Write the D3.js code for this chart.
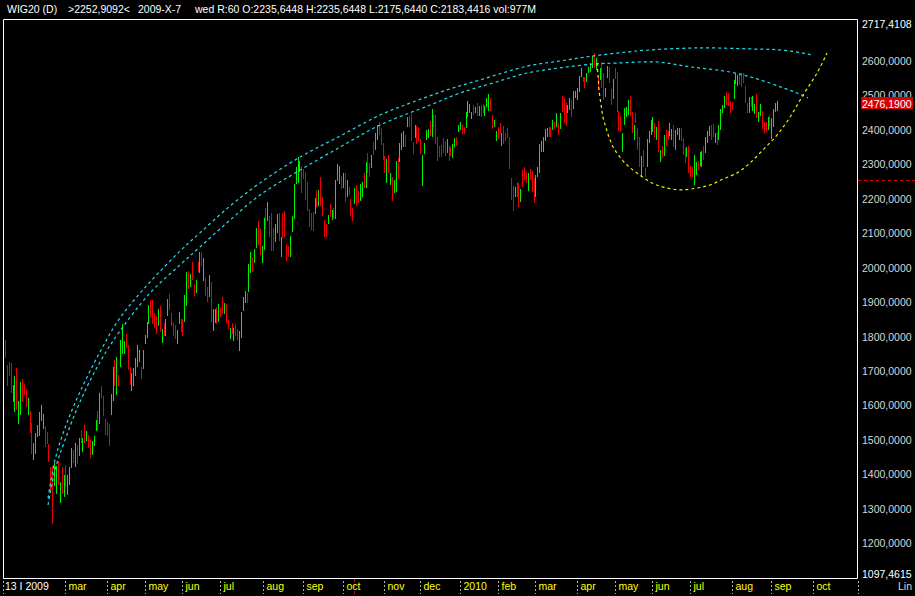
<!DOCTYPE html>
<html><head><meta charset="utf-8">
<script src="https://cdn.jsdelivr.net/npm/d3@7"></script>
<style>body{margin:0;background:#000;overflow:hidden}svg{display:block}</style>
</head><body>
<svg id="c" width="915" height="596"></svg>
<script>
// ---- data ----
const highs = [
1788,1713,1724,1721,1655,1681,1707,1611,1666,1675,
1660,1643,1620,1582,1547,1489,1518,1539,1579,1597,
1571,1536,1521,1486,1417,1420,1431,1420,1437,1376,
1417,1396,1423,1394,1417,1472,1469,1489,1481,1501,
1527,1501,1539,1524,1512,1498,1495,1507,1556,1582,
1634,1652,1623,1559,1550,1542,1631,1710,1730,1739,
1684,1788,1832,1785,1805,1771,1710,1692,1707,1736,
1771,1759,1710,1759,1802,1840,1889,1904,1904,1866,
1858,1878,1887,1820,1837,1849,1907,1921,1866,1837,
1831,1817,1869,1849,1849,1919,1985,1988,1979,2014,
1950,1962,2014,2043,2043,2026,1968,1942,1977,1956,
1878,1878,1884,1892,1881,1913,1895,1892,1846,1823,
1837,1823,1834,1820,1814,1869,1913,1930,1924,2008,
2043,2029,2052,2113,2133,2110,2061,2142,2171,2188,
2148,2156,2113,2124,2153,2156,2087,2156,2162,2066,
2061,2090,2148,2240,2290,2319,2307,2293,2284,2275,
2246,2168,2156,2159,2200,2223,2223,2261,2203,2136,
2124,2150,2182,2165,2171,2252,2298,2293,2264,2272,
2272,2252,2232,2197,2171,2229,2238,2220,2240,2246,
2272,2304,2330,2301,2324,2362,2388,2411,2420,2403,
2359,2322,2313,2324,2272,2261,2252,2307,2316,2359,
2388,2394,2382,2435,2438,2443,2362,2411,2409,2406,
2371,2324,2359,2397,2400,2423,2458,2441,2441,2377,
2351,2354,2374,2365,2371,2351,2348,2356,2374,2377,
2411,2420,2411,2406,2449,2481,2472,2449,2469,2464,
2475,2467,2469,2472,2467,2490,2501,2490,2441,2426,
2394,2406,2417,2388,2409,2388,2403,2377,2258,2235,
2232,2246,2243,2226,2281,2290,2275,2272,2284,2278,
2258,2267,2290,2356,2365,2377,2400,2403,2406,2406,
2426,2420,2446,2417,2446,2496,2490,2475,2469,2490,
2484,2510,2510,2519,2554,2577,2551,2551,2562,2580,
2591,2612,2620,2606,2551,2577,2594,2562,2519,2583,
2580,2516,2545,2577,2565,2452,2438,2388,2461,2464,
2484,2496,2449,2411,2446,2403,2377,2322,2339,2287,
2371,2394,2426,2435,2417,2406,2423,2339,2351,2382,
2397,2394,2417,2400,2411,2397,2403,2403,2403,2374,
2345,2348,2351,2293,2290,2324,2304,2307,2333,2336,
2351,2377,2394,2409,2411,2414,2388,2391,2411,2458,
2469,2496,2507,2504,2481,2478,2542,2562,2556,2562,
2562,2562,2525,2475,2493,2493,2496,2472,2501,2449,
2472,2452,2420,2420,2435,2441,2432,2458,2475,2481];
const lows = [
1736,1652,1681,1634,1608,1579,1585,1544,1570,1608,
1626,1591,1568,1518,1455,1440,1455,1504,1507,1553,
1530,1475,1486,1434,1347,1252,1362,1339,1367,1315,
1339,1330,1359,1336,1367,1414,1431,1417,1428,1449,
1489,1463,1489,1495,1472,1443,1452,1478,1524,1527,
1542,1620,1565,1510,1507,1478,1568,1611,1652,1626,
1652,1710,1747,1747,1765,1701,1655,1640,1652,1681,
1710,1724,1675,1704,1774,1794,1832,1852,1832,1823,
1803,1829,1811,1779,1800,1800,1858,1875,1829,1800,
1791,1774,1832,1811,1800,1840,1887,1936,1942,1962,
1916,1924,1985,1982,2003,1959,1916,1898,1913,1840,
1814,1837,1832,1840,1855,1861,1863,1837,1820,1791,
1803,1785,1800,1788,1756,1794,1872,1895,1895,1927,
1982,1985,2011,2055,2064,2034,2011,2049,2110,2133,
2087,2046,2046,2072,2098,2075,2029,2084,2087,2017,
2029,2029,2101,2139,2240,2243,2275,2214,2255,2194,
2162,2116,2107,2104,2153,2174,2177,2177,2148,2087,
2087,2124,2145,2136,2142,2139,2249,2240,2226,2229,
2188,2203,2209,2148,2133,2182,2177,2185,2191,2203,
2229,2229,2272,2261,2287,2324,2339,2368,2382,2354,
2310,2272,2243,2272,2237,2191,2214,2217,2255,2304,
2339,2348,2348,2406,2406,2365,2327,2374,2356,2365,
2327,2235,2327,2368,2374,2380,2377,2406,2356,2307,
2319,2319,2330,2322,2330,2307,2322,2316,2348,2351,
2391,2397,2385,2385,2403,2435,2446,2429,2441,2446,
2438,2438,2435,2446,2438,2464,2452,2452,2400,2406,
2365,2371,2385,2351,2356,2365,2374,2284,2194,2162,
2203,2203,2174,2188,2232,2252,2243,2220,2252,2217,
2185,2203,2261,2272,2333,2333,2365,2377,2377,2377,
2397,2400,2406,2382,2400,2449,2417,2409,2446,2455,
2435,2458,2490,2484,2507,2551,2536,2519,2536,2562,
2565,2577,2577,2571,2513,2542,2519,2484,2493,2548,
2533,2470,2487,2545,2449,2394,2391,2333,2412,2435,
2441,2438,2388,2368,2417,2339,2290,2261,2290,2261,
2290,2359,2382,2391,2377,2368,2333,2304,2316,2322,
2351,2368,2380,2368,2348,2339,2382,2368,2365,2324,
2301,2319,2272,2261,2261,2237,2267,2281,2293,2290,
2310,2330,2359,2380,2368,2377,2359,2354,2368,2397,
2446,2461,2469,2467,2446,2455,2487,2530,2524,2527,
2522,2533,2475,2446,2446,2464,2452,2443,2432,2420,
2438,2400,2385,2391,2397,2409,2371,2406,2449,2452];
// G = up day (green), R = down day (red)
const dirs = "RRRRGGRGGR"+"RRGRRGGGGG"+"GRRRRRGGRG"+"RGRGGGRGRG"+"RGRGRRGGGR"+
  "GRRRRRGGRG"+"RGGGRRRGGG"+"GGRGGGGRRR"+"RGRGRGGRRR"+"RGGRRGGRGR"+
  "RGRGRGRRGR"+"GGRGRRGRRG"+"RGRRGGGGRG"+"GRGGRRGGRG"+"RRRGGRGRRR"+
  "RGGGGGGRRR"+"RRRRGRGRRR"+"RGRGRGGGRG"+"RGRRRGRRGG"+"RGRRGRGGRR"+
  "RRGRGRGGRG"+"GGRGRRRGRR"+"RGGGGRGRRR"+"RRRRGRRGGR"+"GGRRGGGGRG"+
  "RGRRGGGRRG"+"GRRGRRRRRR"+"GRRGRRRGRR"+"RGGGGGGGRR"+"GRGRGRRRGG"+
  "RGGGGGRRGG"+"GGRGRGRRGG"+"RRGRRRRGGG"+"GRRGRRRGRR"+"GGGGRGRGRG"+
  "RRGGRGGGRR"+"RGRRRGGRGG"+"RGGGRRGRGG"+"GGRRRRGGGR"+"RRRRGRGGRG"+
  "GRRRGRGGGG";

const monthLabels = ["13 I 2009","mar","apr","may","jun","jul","aug","sep","oct","nov","dec",
  "2010","feb","mar","apr","may","jun","jul","aug","sep","oct"];
const monthIdx = [0,33,55,75,95,115,138,159,180,202,221,242,262,282,304,324,344,364,386,407,429];

const yTicks = [2600,2500,2400,2300,2200,2100,2000,1900,1800,1700,1600,1500,1400,1300,1200];
const yMin = 1097.4615, yMax = 2717.4108;
const lastClose = 2476.19;
const cursorValue = 2252.9092;
const cursorIdx = 186;

// trend arcs: [day index, price]
const upperArc = [[22.8,1328],[26.5,1439],[31.8,1532],[39.7,1636],[50.3,1752],[60.9,1851],[76.8,1955],
  [92.7,2045],[103.3,2098],[119.2,2176],[135.1,2243],[156.3,2318],[177.5,2379],[198.7,2440],[216.2,2478],
  [234.2,2513],[251.7,2542],[276.6,2582],[294,2597],[308.3,2609],[324.2,2620],[341.7,2629],[368.2,2635],
  [394.7,2632],[410.6,2629],[422.8,2620],[427.6,2614]];
const lowerArc = [[22.8,1308],[26.5,1410],[31.8,1497],[39.7,1607],[50.3,1723],[60.9,1813],[76.8,1923],
  [92.7,2005],[103.3,2057],[119.2,2135],[135.1,2208],[154.7,2275],[177.5,2347],[198.7,2411],[225.2,2469],
  [241.1,2504],[258.5,2533],[276.6,2562],[294,2577],[311.5,2588],[324.2,2591],[345.4,2594],[363,2580],
  [384.1,2565],[398.4,2545],[412.2,2519],[419.6,2504],[425.4,2490]];
const cupArc = [[313.6,2591],[314.2,2556],[314.7,2513],[315.8,2469],[316.8,2434],[318.4,2403],[320,2376],
  [322.2,2347],[325.8,2318],[330.1,2292],[334.8,2272],[341.7,2246],[348.6,2231],[357.6,2223],[366.6,2228],
  [373.5,2237],[380.4,2254],[387.8,2272],[394.7,2301],[401.6,2339],[409,2382],[415.9,2434],[422.8,2498],
  [430.2,2562],[435.5,2620]];

// ---- drawing ----
const svg = d3.select("#c");
const W = 915, H = 596;
const L = 3.5, R = 857.5, T = 19.5, B = 578.5;
const FONT = "'Liberation Sans', Arial, sans-serif";

svg.append("rect").attr("width", W).attr("height", H).attr("fill", "#000");

const x = d3.scaleLinear().domain([0, highs.length - 1]).range([5, 777]);
const y = d3.scaleLinear().domain([yMin, yMax]).range([577.5, 19.5]);

// frame
svg.append("path")
  .attr("d", `M${L},${B}V${T}H${R}V${B}H${L}`)
  .attr("fill", "none").attr("stroke", "#fff").attr("stroke-width", 1);

// bars
const bars = highs.map((h, i) => ({i, h, l: lows[i], up: dirs[i] === "G"}));
svg.append("g").selectAll("rect").data(bars).join("rect")
  .attr("x", d => Math.round(x(d.i)))
  .attr("y", d => Math.round(y(d.h)))
  .attr("width", 1)
  .attr("height", d => Math.max(1, Math.round(y(d.l)) - Math.round(y(d.h))))
  .attr("fill", d => d.up ? "#00f000" : "#f00000")
  .attr("shape-rendering", "crispEdges");

// arcs
const line = d3.line().x(d => x(d[0])).y(d => y(d[1])).curve(d3.curveCatmullRom);
svg.append("path").datum(upperArc).attr("d", line)
  .attr("fill", "none").attr("stroke", "#20e0f0").attr("stroke-width", 1.2).attr("stroke-dasharray", "3,3");
svg.append("path").datum(lowerArc).attr("d", line)
  .attr("fill", "none").attr("stroke", "#20e0f0").attr("stroke-width", 1.2).attr("stroke-dasharray", "3,3");
svg.append("path").datum(cupArc).attr("d", line)
  .attr("fill", "none").attr("stroke", "#f0f000").attr("stroke-width", 1.2).attr("stroke-dasharray", "3,3");

// right axis labels
const ax = svg.append("g").attr("font-family", FONT).attr("font-size", "10.5px");
ax.selectAll("text.t").data(yTicks).join("text").attr("class", "t")
  .attr("x", 862).attr("y", d => Math.round(y(d)) + 5)
  .attr("fill", "#d8d8d8").text(d => d3.format(".4f")(d).replace(".", ","));
ax.append("text").attr("x", 862).attr("y", Math.round(y(yMax)) + 8).attr("fill", "#fff")
  .text(d3.format(".4f")(yMax).replace(".", ","));
ax.append("text").attr("x", 862).attr("y", Math.round(y(yMin)) + 0).attr("fill", "#fff")
  .text(d3.format(".4f")(yMin).replace(".", ","));
ax.append("text").attr("x", 912).attr("y", 590).attr("text-anchor", "end").attr("fill", "#d8d8d8").text("Lin");

// last close box
const yc = y(lastClose);
ax.append("rect").attr("x", 861).attr("y", Math.round(yc) - 6).attr("width", 52).attr("height", 12).attr("fill", "#d80000");
ax.append("text").attr("x", 862).attr("y", Math.round(yc) + 5).attr("fill", "#fff")
  .text(d3.format(".4f")(lastClose).replace(".", ","));

// cursor markers
svg.append("line").attr("x1", 858).attr("x2", 915).attr("y1", Math.round(y(cursorValue)) + 0.5).attr("y2", Math.round(y(cursorValue)) + 0.5)
  .attr("stroke", "#e00000").attr("stroke-dasharray", "3,3");
svg.append("line").attr("x1", Math.round(x(cursorIdx)) - 1.5).attr("x2", Math.round(x(cursorIdx)) - 1.5).attr("y1", 579).attr("y2", 596)
  .attr("stroke", "#e00000").attr("stroke-dasharray", "3,3");

// bottom axis
const bx = svg.append("g").attr("font-family", FONT).attr("font-size", "10.5px");
monthLabels.forEach((lab, k) => {
  const px = k === 0 ? 3.5 : Math.round(x(monthIdx[k])) - 1.5;
  bx.append("line").attr("x1", px).attr("x2", px).attr("y1", 581).attr("y2", 594)
    .attr("stroke", "#b0b0b0").attr("stroke-dasharray", "2,2");
  bx.append("text").attr("x", px + (k === 0 ? 1.5 : 3)).attr("y", 590)
    .attr("fill", k === 0 ? "#fff" : "#ffff00").text(lab);
});
bx.append("line").attr("x1", 858.5).attr("x2", 858.5).attr("y1", 581).attr("y2", 594)
  .attr("stroke", "#b0b0b0").attr("stroke-dasharray", "2,2");

// header
const hd = svg.append("g").attr("font-family", FONT).attr("font-size", "10.5px").attr("fill", "#fff");
hd.append("text").attr("x", 7).attr("y", 13).text("WIG20 (D)");
hd.append("text").attr("x", 68).attr("y", 13).text(">2252,9092<");
hd.append("text").attr("x", 138).attr("y", 13).text("2009-X-7");
hd.append("text").attr("x", 195).attr("y", 13).text("wed R:60 O:2235,6448 H:2235,6448 L:2175,6440 C:2183,4416 vol:977M");
</script>
</body></html>
